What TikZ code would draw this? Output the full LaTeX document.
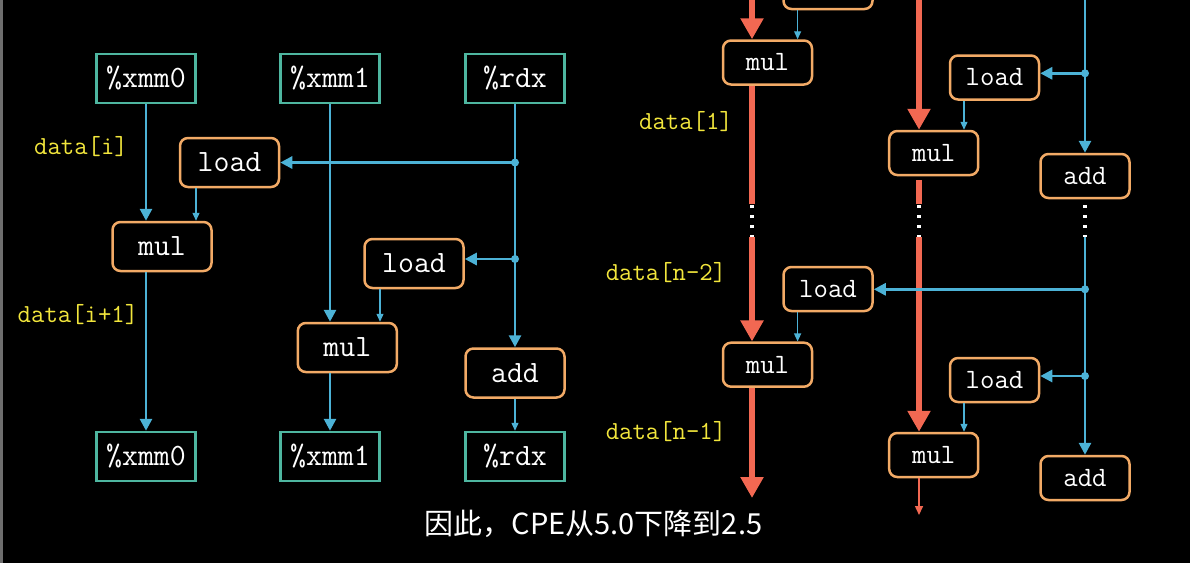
\documentclass[tikz,border=0pt]{standalone}
\usepackage{fontspec}
\newfontfamily\cjkfont{Noto Sans CJK SC}
\usetikzlibrary{arrows.meta}
\definecolor{cteal}{RGB}{78,182,160}
\definecolor{corange}{RGB}{242,170,102}
\definecolor{cblue}{RGB}{76,178,214}
\definecolor{cred}{RGB}{242,104,82}
\definecolor{cyellow}{RGB}{242,230,60}
\definecolor{cgray}{RGB}{110,110,110}
\begin{document}
\begin{tikzpicture}[x=1pt,y=-1pt,
  reg/.style={draw=cteal, line width=2.5pt, minimum width=99pt, minimum height=49pt,
    text=white, inner sep=0pt, font=\ttfamily\fontsize{31}{31}\selectfont},
  op/.style={draw=corange, line width=2.5pt, rounded corners=8pt, minimum width=99pt,
    minimum height=49pt, text=white, inner sep=0pt, font=\ttfamily\fontsize{31}{31}\selectfont},
  opr/.style={op, minimum width=89pt, minimum height=44pt, font=\ttfamily\fontsize{28}{28}\selectfont},
  lab/.style={text=cyellow, inner sep=0pt, font=\ttfamily\fontsize{26}{26}\selectfont},
  barrow/.style={draw=cblue, line width=2.8pt, -{Triangle[width=12pt,length=12pt]}},
  bline/.style={draw=cblue, line width=2.8pt},
  sarrow/.style={draw=cblue, line width=1.3pt, -{Triangle[width=7pt,length=8pt]}},
  rarrow/.style={draw=cred, line width=6pt, -{Triangle[width=22pt,length=21pt]}},
  rline/.style={draw=cred, line width=6pt},
  rthin/.style={draw=cred, line width=1.5pt, -{Triangle[width=8pt,length=9pt]}},
  dotsw/.style={draw=white, line width=3.5pt, dash pattern=on 3pt off 7pt},
  jdot/.style={fill=cblue}
]
\useasboundingbox (0,0) rectangle (1190,563);
\fill[black] (0,0) rectangle (1190,563);
\fill[cgray] (0,0) rectangle (2.5,563);
\clip (0,0) rectangle (1190,563);

% ---------------- left half ----------------
\node[reg] (r0t) at (146,78.5) {\%xmm0};
\node[reg] (r1t) at (330,78.5) {\%xmm1};
\node[reg] (rdt) at (515,78.5) {\%rdx};
\node[op] (ldA) at (229.5,162.5) {load};
\node[op] (mlA) at (162,246.5) {mul};
\node[op] (ldB) at (414,263.5) {load};
\node[op] (mlB) at (347.3,347.5) {mul};
\node[op] (adA) at (515,373) {add};
\node[reg] (r0b) at (146,456.5) {\%xmm0};
\node[reg] (r1b) at (330,456.5) {\%xmm1};
\node[reg] (rdb) at (515,456.5) {\%rdx};

\node[lab] (l1) at (81,147) {data[i]};
\node[lab] (l2) at (78,315) {data[i+1]};

\draw[barrow] (r0t.south) -- (r0t.south |- mlA.north);
\draw[barrow] (mlA.south -| r0t.south) -- (r0b.north);
\coordinate (s1) at ([xshift=-33.5pt]ldA.south);
\draw[sarrow] (s1) -- (s1 |- mlA.north);

\draw[barrow] (r1t.south) -- (r1t.south |- mlB.north);
\draw[barrow] (mlB.south -| r1t.south) -- (r1b.north);
\coordinate (s2) at ([xshift=-34pt]ldB.south);
\draw[sarrow] (s2) -- (s2 |- mlB.north);

\draw[barrow] (rdt.south) -- (adA.north);
\draw[sarrow] (adA.south) -- (rdb.north);
\coordinate (j1) at (rdt.south |- ldA.east);
\coordinate (j2) at (515,259);
\draw[barrow] (j1) -- (ldA.east);
\draw[barrow] (j2) -- (j2 -| ldB.east);
\fill[jdot] (j1) circle (4pt);
\fill[jdot] (j2) circle (4pt);

% ---------------- right half ----------------
\node[opr] (pl) at (828,-13) {};
\node[opr] (mA1) at (767.5,62.5) {mul};
\node[opr] (lB1) at (994.5,77.5) {load};
\node[opr] (mB1) at (933.7,153) {mul};
\node[opr] (aC1) at (1085,176) {add};
\node[opr] (lA2) at (828,289) {load};
\node[opr] (mA2) at (767.5,364.7) {mul};
\node[opr] (lB2) at (994.5,380) {load};
\node[opr] (mB2) at (933.7,455) {mul};
\node[opr] (aC2) at (1085,478) {add};

\node[lab] (l3) at (686,122) {data[1]};
\node[lab] (l4) at (666,273) {data[n-2]};
\node[lab] (l5) at (666,432) {data[n-1]};

% column A (red)
\coordinate (tA) at (752,-10);
\coordinate (a1) at (752,204);
\coordinate (a2) at (752,237);
\coordinate (a3) at (752,498);
\draw[rarrow] (tA) -- (tA |- mA1.north);
\draw[rline] (mA1.south -| tA) -- (a1);
\draw[dotsw] (752,205) -- (a2);
\draw[rarrow] (a2) -- (a2 |- mA2.north);
\draw[rarrow] (mA2.south -| tA) -- (a3);

% column B (red)
\coordinate (tB) at (919,-10);
\coordinate (b0) at (919,180);
\coordinate (b1) at (919,204);
\coordinate (b2) at (919,237);
\coordinate (b3) at (919,515);
\draw[rarrow] (tB) -- (tB |- mB1.north);
\draw[rline] (b0) -- (b1);
\draw[dotsw] (919,205) -- (b2);
\draw[rarrow] (b2) -- (b2 |- mB2.north);
\draw[rthin] (mB2.south -| tB) -- (b3);

% small blue arrows load -> mul
\coordinate (s3) at ([xshift=-30.4pt]pl.south);
\draw[sarrow] (s3) -- (s3 |- mA1.north);
\coordinate (s4) at ([xshift=-30.4pt]lA2.south);
\draw[sarrow] (s4) -- (s4 |- mA2.north);
\coordinate (s5) at ([xshift=-30.5pt]lB1.south);
\draw[sarrow] (s5) -- (s5 |- mB1.north);
\coordinate (s6) at ([xshift=-30.5pt]lB2.south);
\draw[sarrow] (s6) -- (s6 |- mB2.north);

% column C (blue)
\coordinate (tC) at (1085,-10);
\coordinate (c2) at (1085,237);
\draw[barrow] (tC) -- (aC1.north);
\draw[dotsw] (1085,205) -- (c2);
\draw[barrow] (c2) -- (aC2.north);
\coordinate (j3) at (1085,73.3);
\coordinate (j4) at (1085,289.3);
\coordinate (j5) at (1085,376);
\draw[barrow] (j3) -- (j3 -| lB1.east);
\draw[barrow] (j4) -- (j4 -| lA2.east);
\draw[barrow] (j5) -- (j5 -| lB2.east);
\fill[jdot] (j3) circle (4pt);
\fill[jdot] (j4) circle (4pt);
\fill[jdot] (j5) circle (4pt);

% caption
\node[text=white, inner sep=0pt, font=\cjkfont\fontsize{29}{29}\selectfont] (cap) at (593.5,523.5) {因此，CPE从5.0下降到2.5};
\end{tikzpicture}
\end{document}
